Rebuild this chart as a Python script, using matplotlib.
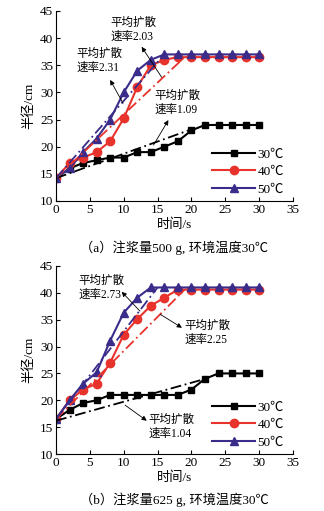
import matplotlib
matplotlib.use("Agg")
import matplotlib.pyplot as plt
import numpy as np

plt.rcParams['font.family'] = ['Liberation Serif', 'Noto Sans CJK SC']

t = [0, 2, 4, 6, 8, 10, 12, 14, 16, 18, 20, 22, 24, 26, 28, 30]
temps = ['30℃', '40℃', '50℃']

# 注浆量500 g
r_a_30 = [14.2, 16, 17, 17.5, 18, 18, 19, 19, 20, 21, 23, 24, 24, 24, 24, 24]
r_a_40 = [14.2, 17, 18, 19, 21, 25.2, 31, 35, 36, 36.5, 36.5, 36.5, 36.5, 36.5, 36.5, 36.5]
r_a_50 = [14.2, 16, 19, 21.5, 25, 30, 34, 36, 37, 37, 37, 37, 37, 37, 37, 37]
fit_a_30 = ([0, 20], [14.2, 23.2])
fit_a_40 = ([0, 19], [14.2, 36.5])
fit_a_50 = ([0, 16], [14.2, 37])

# 注浆量625 g
r_b_30 = [16.5, 18.2, 19.5, 20, 21, 21, 21, 21, 21, 21, 22, 24, 25, 25, 25, 25]
r_b_40 = [16.5, 20, 22, 23.1, 27, 32.2, 35.1, 37.6, 39.1, 40.6, 40.6, 40.6, 40.6, 40.6, 40.6, 40.6]
r_b_50 = [16.5, 20, 23.1, 25.2, 31.1, 36.3, 39.1, 41, 41, 41, 41, 41, 41, 41, 41, 41]
fit_b_30 = ([0, 21.5], [16.2, 23.8])
fit_b_40 = ([0, 19], [16.5, 40.6])
fit_b_50 = ([0, 15], [16.5, 41])

# (label, text position, arrow tail, arrow head)
notes_a = [('平均扩散\n速率2.03', (8.0, 41.5), (15.6, 32.8), (12.65, 38.4)),
           ('平均扩散\n速率2.31', (3.0, 35.8), (9.9, 28.0), (8.0, 32.3)),
           ('平均扩散\n速率1.09', (14.6, 28.0), (14.4, 20.3), (16.6, 24.9))]
notes_b = [('平均扩散\n速率2.73', (3.3, 40.9), (12.4, 36.6), (9.7, 40.2)),
           ('平均扩散\n速率2.25', (19.0, 32.5), (15.4, 36.0), (18.6, 33.5)),
           ('平均扩散\n速率1.04', (13.6, 15.1), (10.2, 19.1), (13.4, 16.2))]

colors = ['black', '#e8332c', '#3a2c8a']
markers = ['s', 'o', '^']
msizes = [4.5, 6, 5.5]


def draw_panel(ax, series, fits, notes, caption):
    for y, c, m, ms, lab in zip(series, colors, markers, msizes, temps):
        ax.plot(t, y, color=c, marker=m, markersize=ms, lw=1.5, label=lab)
    for (fx, fy), c in zip(fits, colors):
        ax.plot(fx, fy, color=c, lw=1.3, ls=(0, (6, 2, 1, 2)))
    for txt, pos, tail, head in notes:
        ax.text(pos[0], pos[1], txt, ha='left', va='center', fontsize=8.3,
                linespacing=1.2)
        ax.annotate('', xy=head, xytext=tail,
                    arrowprops=dict(arrowstyle='-|>', color='black', lw=0.6,
                                    mutation_scale=7, shrinkA=0, shrinkB=0))
    ax.set_xlim(0, 35)
    ax.set_ylim(10, 45)
    ax.set_xticks(np.arange(0, 36, 5))
    ax.set_yticks(np.arange(10, 46, 5))
    ax.spines['top'].set_visible(False)
    ax.spines['right'].set_visible(False)
    ax.tick_params(direction='in', labelsize=9.5, length=3, pad=2)
    ax.set_xlabel('时间/s', fontsize=9.5, labelpad=2)
    ax.set_ylabel('半径/cm', fontsize=9.5, labelpad=3)
    ax.legend(loc='lower right', frameon=False, fontsize=9.5, handlelength=3.2,
              handletextpad=0.2, labelspacing=0.4, borderaxespad=0.3,
              bbox_to_anchor=(1.0, -0.02))
    ax.text(0.5, -0.245, caption, transform=ax.transAxes, ha='center',
            va='center', fontsize=9.5)


fig = plt.figure(figsize=(3.24, 5.11), dpi=100)
ax1 = fig.add_axes([0.1728, 0.6067, 0.7315, 0.3718])
ax2 = fig.add_axes([0.1728, 0.1115, 0.7315, 0.368])

draw_panel(ax1, [r_a_30, r_a_40, r_a_50], [fit_a_30, fit_a_40, fit_a_50],
           notes_a, '（a）注浆量500 g, 环境温度30℃')
draw_panel(ax2, [r_b_30, r_b_40, r_b_50], [fit_b_30, fit_b_40, fit_b_50],
           notes_b, '（b）注浆量625 g, 环境温度30℃')

fig.savefig('out.png', dpi=100)
